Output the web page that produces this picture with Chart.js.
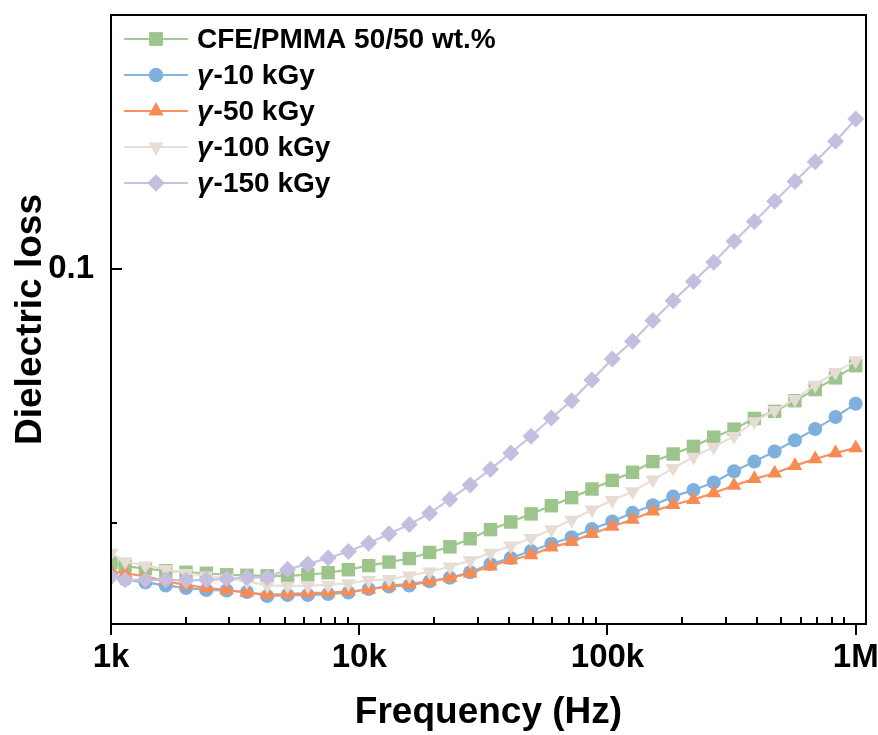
<!DOCTYPE html>
<html>
<head>
<meta charset="utf-8">
<script src="https://cdn.jsdelivr.net/npm/chart.js@4.4.1/dist/chart.umd.min.js"></script>
<style>
html,body{margin:0;padding:0;background:#ffffff;}
#wrap{width:878px;height:735px;position:relative;}
</style>
</head>
<body>
<div id="wrap"><canvas id="c"></canvas></div>
<script>
// ---------------- data ----------------
const frequencies = [1000, 1140, 1376, 1662, 2006, 2421, 2923, 3528, 4259, 5142, 6207, 7493, 9045,
  10917, 13180, 15908, 19204, 23184, 27984, 33785, 40781, 49229, 59429, 71737, 86593,
  104520, 126183, 152335, 183865, 221970, 267917, 323444, 390480, 471302, 568985, 686648, 828947, 1000000];

const cfePmma = [0.0421, 0.0414, 0.0409, 0.0405, 0.0402, 0.0400, 0.0397, 0.0396, 0.0395, 0.0395, 0.0397, 0.0401, 0.0407,
  0.0415, 0.0422, 0.0429, 0.0441, 0.0452, 0.0468, 0.0486, 0.0501, 0.0517, 0.0533, 0.0549, 0.0566,
  0.0583, 0.0599, 0.0620, 0.0635, 0.0650, 0.0668, 0.0684, 0.0705, 0.0719, 0.0740, 0.0762, 0.0785, 0.0809];

const gamma10 = [0.0397, 0.0388, 0.0382, 0.0376, 0.0371, 0.0367, 0.0366, 0.0363, 0.0355, 0.0357, 0.0357, 0.0359, 0.0362,
  0.0369, 0.0374, 0.0376, 0.0384, 0.0391, 0.0402, 0.0418, 0.0430, 0.0444, 0.0458, 0.0471, 0.0487,
  0.0502, 0.0519, 0.0534, 0.0551, 0.0564, 0.0579, 0.0601, 0.0620, 0.0640, 0.0662, 0.0684, 0.0708, 0.0734];

const gamma50 = [0.0403, 0.0400, 0.0394, 0.0384, 0.0377, 0.0371, 0.0367, 0.0362, 0.0358, 0.0359, 0.0361, 0.0362, 0.0364,
  0.0368, 0.0375, 0.0379, 0.0384, 0.0391, 0.0400, 0.0414, 0.0426, 0.0436, 0.0451, 0.0462, 0.0478,
  0.0492, 0.0506, 0.0522, 0.0535, 0.0545, 0.0558, 0.0573, 0.0586, 0.0597, 0.0612, 0.0625, 0.0637, 0.0647];

const gamma100 = [0.0440, 0.0423, 0.0415, 0.0408, 0.0400, 0.0395, 0.0390, 0.0384, 0.0376, 0.0375, 0.0375, 0.0377, 0.0380,
  0.0386, 0.0388, 0.0395, 0.0403, 0.0413, 0.0425, 0.0440, 0.0454, 0.0469, 0.0486, 0.0505, 0.0525,
  0.0544, 0.0561, 0.0584, 0.0607, 0.0629, 0.0649, 0.0670, 0.0699, 0.0721, 0.0743, 0.0771, 0.0796, 0.0819];

const gamma150 = [0.0393, 0.0387, 0.0387, 0.0387, 0.0386, 0.0387, 0.0389, 0.0392, 0.0392, 0.0408, 0.0418, 0.0430, 0.0443,
  0.0459, 0.0478, 0.0496, 0.0518, 0.0546, 0.0574, 0.0605, 0.0637, 0.0670, 0.0706, 0.0740, 0.0781,
  0.0822, 0.0857, 0.0898, 0.0937, 0.0975, 0.1013, 0.1054, 0.1093, 0.1133, 0.1172, 0.1211, 0.1251, 0.1295];

const seriesLabels = ['CFE/PMMA 50/50 wt.%', 'γ-10 kGy', 'γ-50 kGy', 'γ-100 kGy', 'γ-150 kGy'];
const xTickValues = [1000, 10000, 100000, 1000000];
const xTickLabels = ['1k', '10k', '100k', '1M'];
const yTickValues = [0.1];
const yTickLabels = ['0.1'];
const yMinorTickValues = [0.05];
const xTitle = 'Frequency (Hz)';
const yTitle = 'Dielectric loss';

// ---------------- styles ----------------
const FONT = '"Liberation Sans", Arial, Helvetica, sans-serif';
const seriesValues = [cfePmma, gamma10, gamma50, gamma100, gamma150];
const colors = ['#9dc48b', '#7eb0dd', '#f68c52', '#e6dcd4', '#c5bedf'];
const lineColors = ['#a3c892', '#84b4df', '#f7925f', '#e8dfd8', '#c9c3e2'];
const pointStyles = ['rect', 'circle', 'triangle', 'triangle', 'rectRot'];
const pointRotations = [0, 0, 0, 180, 0];
const pointRadii = [9.5, 7, 8.5, 8.5, 8.5];
const drawOrder = [4, 3, 2, 1, 0];

const datasets = seriesValues.map((vals, i) => ({
  label: seriesLabels[i],
  data: frequencies.map((f, j) => ({x: f, y: vals[j]})),
  borderColor: lineColors[i],
  backgroundColor: colors[i],
  pointBackgroundColor: colors[i],
  pointBorderColor: colors[i],
  pointBorderWidth: 0,
  borderWidth: 2.2,
  pointStyle: pointStyles[i],
  rotation: pointRotations[i],
  pointRadius: pointRadii[i],
  pointHoverRadius: pointRadii[i],
  tension: 0,
  clip: 0,
  order: drawOrder[i]
}));

const decor = {
  id: 'decor',
  afterDraw(chart) {
    const {ctx, chartArea: a, scales: {x, y}} = chart;
    ctx.save();
    ctx.strokeStyle = '#000';
    ctx.lineWidth = 2;
    ctx.beginPath();
    // x major ticks (outside)
    xTickValues.forEach(v => {
      const px = Math.round(x.getPixelForValue(v));
      ctx.moveTo(px, a.bottom); ctx.lineTo(px, a.bottom + 11);
    });
    // x minor ticks (inside)
    for (let d = 1000; d < x.max; d *= 10) {
      for (let m = 2; m <= 9; m++) {
        const v = d * m;
        if (v >= x.max) continue;
        const px = Math.round(x.getPixelForValue(v));
        ctx.moveTo(px, a.bottom); ctx.lineTo(px, a.bottom - 7);
      }
    }
    // y major ticks (inside)
    yTickValues.forEach(v => {
      const py = Math.round(y.getPixelForValue(v));
      ctx.moveTo(a.left, py); ctx.lineTo(a.left + 11, py);
    });
    yMinorTickValues.forEach(v => {
      const py = Math.round(y.getPixelForValue(v));
      ctx.moveTo(a.left, py); ctx.lineTo(a.left + 6, py);
    });
    ctx.stroke();
    // frame
    ctx.strokeRect(a.left, a.top, a.right - a.left, a.bottom - a.top);

    // legend
    const rowY0 = a.top + 24, rowGap = 36;
    const lineX0 = a.left + 13, lineX1 = a.left + 77, markX = a.left + 45, textX = a.left + 86;
    chart.data.datasets.forEach((ds, i) => {
      const yy = rowY0 + i * rowGap;
      ctx.strokeStyle = ds.borderColor;
      ctx.lineWidth = 2.2;
      ctx.beginPath(); ctx.moveTo(lineX0, yy); ctx.lineTo(lineX1, yy); ctx.stroke();
      ctx.fillStyle = ds.pointBackgroundColor;
      ctx.strokeStyle = ds.pointBackgroundColor;
      ctx.lineWidth = 0.01;
      Chart.helpers.drawPoint(ctx, {pointStyle: ds.pointStyle, rotation: ds.rotation, radius: ds.pointRadius, borderWidth: 0}, markX, yy);
      ctx.fill();
      // text
      ctx.fillStyle = '#000';
      ctx.textBaseline = 'middle';
      ctx.textAlign = 'left';
      const label = ds.label;
      let tx = textX;
      if (label.startsWith('γ')) {
        ctx.font = 'italic bold 28px ' + FONT;
        ctx.fillText('γ', tx, yy + 1);
        tx += ctx.measureText('γ').width + 1;
        ctx.font = 'bold 28px ' + FONT;
        ctx.fillText(label.slice(1), tx, yy + 1);
      } else {
        ctx.font = 'bold 28px ' + FONT;
        ctx.fillText(label, tx, yy + 1);
      }
    });
    ctx.restore();
  }
};

Chart.defaults.font.family = FONT;
Chart.defaults.color = '#000';

new Chart(document.getElementById('c'), {
  type: 'line',
  data: {datasets},
  plugins: [decor],
  options: {
    responsive: true,
    maintainAspectRatio: false,
    animation: false,
    events: [],
    layout: {padding: {top: 15, right: 12, left: 0, bottom: 0}},
    plugins: {legend: {display: false}, tooltip: {enabled: false}},
    scales: {
      x: {
        type: 'logarithmic',
        min: 1000,
        max: 1100000,
        grid: {display: false, drawTicks: false},
        border: {display: false},
        afterBuildTicks: s => { s.ticks = xTickValues.map(v => ({value: v})); },
        afterFit: s => { s.height = 111; s.paddingLeft = 0; s.paddingRight = 0; },
        ticks: {
          autoSkip: false, maxRotation: 0, padding: 14,
          font: {size: 33, weight: 'bold'},
          callback: v => { const i = xTickValues.indexOf(v); return i >= 0 ? xTickLabels[i] : ''; }
        },
        title: {display: true, text: xTitle, font: {size: 37, weight: 'bold'}, padding: {top: 0, bottom: 0}}
      },
      y: {
        type: 'linear',
        min: 0.03,
        max: 0.15,
        grid: {display: false, drawTicks: false},
        border: {display: false},
        afterBuildTicks: s => { s.ticks = yTickValues.map(v => ({value: v})); },
        afterFit: s => { s.width = 111; s.paddingTop = 0; s.paddingBottom = 0; },
        ticks: {
          padding: 17,
          font: {size: 33, weight: 'bold'},
          callback: v => { const i = yTickValues.indexOf(v); return i >= 0 ? yTickLabels[i] : ''; }
        },
        title: {display: true, text: yTitle, font: {size: 37, weight: 'bold'}, padding: {top: 9, bottom: 0}}
      }
    }
  }
});
</script>
</body>
</html>
